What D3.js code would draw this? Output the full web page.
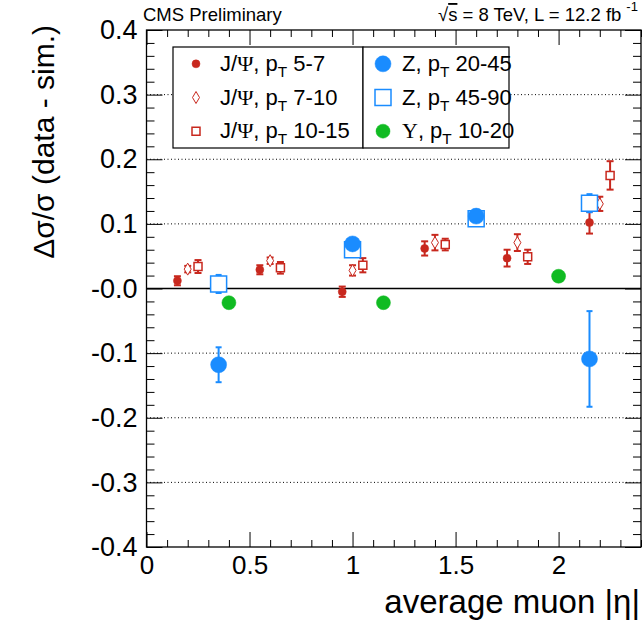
<!DOCTYPE html>
<html><head><meta charset="utf-8">
<script src="https://cdn.jsdelivr.net/npm/d3@7"></script>
<style>
body{margin:0;background:#fff}
svg{display:block}
text{font-family:"Liberation Sans",Arial,Helvetica,sans-serif;fill:#000}
.serif{font-family:"Liberation Serif","Times New Roman",serif}
</style>
</head><body>
<svg id="c" width="642" height="620"></svg>
<script>
// ---- data ----
const xDomain = [0, 2.4];
const yDomain = [-0.4, 0.4];
const xTickVals = [0, 0.5, 1, 1.5, 2];
const xTickLabels = ["0", "0.5", "1", "1.5", "2"];
const yTickVals = [-0.4, -0.3, -0.2, -0.1, 0, 0.1, 0.2, 0.3, 0.4];
const yTickLabels = ["-0.4", "-0.3", "-0.2", "-0.1", "-0.0", "0.1", "0.2", "0.3", "0.4"];
const gridVals = [-0.3, -0.2, -0.1, 0.1, 0.2, 0.3];

const jpsi57Eta = [0.15, 0.55, 0.95, 1.35, 1.75, 2.15];
const jpsi57Val = [0.012, 0.029, -0.005, 0.062, 0.047, 0.102];
const jpsi57Err = [0.007, 0.007, 0.008, 0.011, 0.013, 0.017];

const jpsi710Eta = [0.20, 0.60, 1.00, 1.40, 1.80, 2.20];
const jpsi710Val = [0.030, 0.043, 0.028, 0.071, 0.071, 0.131];
const jpsi710Err = [0.005, 0.005, 0.008, 0.012, 0.013, 0.011];

const jpsi1015Eta = [0.25, 0.65, 1.05, 1.45, 1.85, 2.25];
const jpsi1015Val = [0.034, 0.032, 0.036, 0.068, 0.049, 0.175];
const jpsi1015Err = [0.010, 0.009, 0.011, 0.009, 0.011, 0.022];

const z2045Eta = [0.35, 1.00, 1.60, 2.15];
const z2045Val = [-0.118, 0.069, 0.112, -0.109];
const z2045Err = [0.027, 0.005, 0.005, 0.074];

const z4590Eta = [0.35, 1.00, 1.60, 2.15];
const z4590Val = [0.007, 0.060, 0.108, 0.132];
const z4590Err = [0.014, 0.005, 0.005, 0.014];

const upsEta = [0.40, 1.15, 2.00];
const upsVal = [-0.022, -0.022, 0.019];
const upsErr = [0.003, 0.003, 0.003];

// ---- layout ----
const L = 146.5, R = 641, T = 30, B = 547;
const RED = "#c8281e", BLUE = "#1a8cff", GREEN = "#10bb22";

const svg = d3.select("#c");
const x = d3.scaleLinear().domain(xDomain).range([L, R]);
const y = d3.scaleLinear().domain(yDomain).range([B, T]);

// grid
svg.append("g").selectAll("line").data(gridVals).join("line")
  .attr("x1", L).attr("x2", R).attr("y1", d => y(d)).attr("y2", d => y(d))
  .attr("stroke", "#000").attr("stroke-width", 1).attr("stroke-dasharray", "1,2.5");
svg.append("line").attr("x1", L).attr("x2", R).attr("y1", y(0)).attr("y2", y(0))
  .attr("stroke", "#000").attr("stroke-width", 1.5);

// minor tick values
const yMinor = d3.range(-0.4, 0.4001, 0.02).map(v => +v.toFixed(3)).filter(v => !yTickVals.some(t => Math.abs(t - v) < 1e-6));
const xMinor = d3.range(0, 2.4001, 0.1).map(v => +v.toFixed(3)).filter(v => !xTickVals.some(t => Math.abs(t - v) < 1e-6));

function styleAxis(g) {
  g.select(".domain").remove();
  g.selectAll(".tick line").attr("stroke", "#000").attr("stroke-width", 1);
}
// left
svg.append("g").attr("transform", `translate(${L},0)`)
  .call(d3.axisLeft(y).tickValues(yTickVals).tickSize(-16).tickPadding(9)
    .tickFormat((d, i) => yTickLabels[i]))
  .call(styleAxis)
  .call(g => g.selectAll("text").attr("font-size", 27).attr("font-family", "Liberation Sans, Arial, sans-serif"));
svg.append("g").attr("transform", `translate(${L},0)`)
  .call(d3.axisLeft(y).tickValues(yMinor).tickSize(-8).tickFormat(""))
  .call(styleAxis);
// right
svg.append("g").attr("transform", `translate(${R},0)`)
  .call(d3.axisRight(y).tickValues(yTickVals).tickSize(-16).tickFormat(""))
  .call(styleAxis);
svg.append("g").attr("transform", `translate(${R},0)`)
  .call(d3.axisRight(y).tickValues(yMinor).tickSize(-8).tickFormat(""))
  .call(styleAxis);
// bottom
svg.append("g").attr("transform", `translate(0,${B})`)
  .call(d3.axisBottom(x).tickValues(xTickVals).tickSize(-15).tickPadding(9)
    .tickFormat((d, i) => xTickLabels[i]))
  .call(styleAxis)
  .call(g => g.selectAll("text").attr("font-size", 26).attr("font-family", "Liberation Sans, Arial, sans-serif"));
svg.append("g").attr("transform", `translate(0,${B})`)
  .call(d3.axisBottom(x).tickValues(xMinor).tickSize(-7).tickFormat(""))
  .call(styleAxis);
// top
svg.append("g").attr("transform", `translate(0,${T})`)
  .call(d3.axisTop(x).tickValues(xTickVals).tickSize(-15).tickFormat(""))
  .call(styleAxis);
svg.append("g").attr("transform", `translate(0,${T})`)
  .call(d3.axisTop(x).tickValues(xMinor).tickSize(-7).tickFormat(""))
  .call(styleAxis);

// frame
svg.append("rect").attr("x", L).attr("y", T).attr("width", R - L).attr("height", B - T)
  .attr("fill", "none").attr("stroke", "#000").attr("stroke-width", 1.3);

// marker paths
function circlePath(r) { return `M${-r},0A${r},${r} 0 1,0 ${r},0A${r},${r} 0 1,0 ${-r},0Z`; }
function squarePath(h) { return `M${-h},${-h}H${h}V${h}H${-h}Z`; }
function diamondPath(w, h) { return `M0,${-h}L${w},0L0,${h}L${-w},0Z`; }

function series(eta, val, err, color, cap, ew, markerPath, fill, sw) {
  const data = eta.map((e, i) => ({ e, v: val[i], s: err[i] }));
  const g = svg.append("g");
  const eb = g.selectAll("g.eb").data(data).join("g");
  eb.append("line").attr("x1", d => x(d.e)).attr("x2", d => x(d.e))
    .attr("y1", d => y(d.v - d.s)).attr("y2", d => y(d.v + d.s))
    .attr("stroke", color).attr("stroke-width", ew);
  [-1, 1].forEach(sg => {
    eb.append("line").attr("x1", d => x(d.e) - cap).attr("x2", d => x(d.e) + cap)
      .attr("y1", d => y(d.v + sg * d.s)).attr("y2", d => y(d.v + sg * d.s))
      .attr("stroke", color).attr("stroke-width", ew);
  });
  g.selectAll("path.m").data(data).join("path")
    .attr("transform", d => `translate(${x(d.e)},${y(d.v)})`)
    .attr("d", markerPath)
    .attr("fill", fill ? color : "#fff").attr("stroke", color).attr("stroke-width", sw);
}

series(jpsi57Eta, jpsi57Val, jpsi57Err, RED, 3.5, 2, circlePath(4), true, 0.5);
series(jpsi710Eta, jpsi710Val, jpsi710Err, RED, 3.5, 2, diamondPath(3.5, 6), false, 1);
series(jpsi1015Eta, jpsi1015Val, jpsi1015Err, RED, 3.5, 2, squarePath(4), false, 1.5);
series(z4590Eta, z4590Val, z4590Err, BLUE, 3, 2, squarePath(8), false, 1.5);
series(z2045Eta, z2045Val, z2045Err, BLUE, 3, 2, circlePath(8), true, 0.5);
series(upsEta, upsVal, upsErr, GREEN, 3, 2, circlePath(7), true, 0.5);

// legend
const legLeftItems = [
  { m: circlePath(4), c: RED, f: true, sw: 0.5, g: "Ψ", pt: "5-7" },
  { m: diamondPath(3.5, 6), c: RED, f: false, sw: 1, g: "Ψ", pt: "7-10" },
  { m: squarePath(4), c: RED, f: false, sw: 1.5, g: "Ψ", pt: "10-15" }
];
const legRightItems = [
  { m: circlePath(8), c: BLUE, f: true, sw: 0.5, pre: "Z", pt: "20-45" },
  { m: squarePath(8), c: BLUE, f: false, sw: 1.5, pre: "Z", pt: "45-90" },
  { m: circlePath(7), c: GREEN, f: true, sw: 0.5, pre: "Υ", pt: "10-20" }
];
const LX0 = 173, LX1 = 363, LX2 = 509, LY0 = 47, LY1 = 148;
svg.append("rect").attr("x", LX0).attr("y", LY0).attr("width", LX1 - LX0).attr("height", LY1 - LY0)
  .attr("fill", "#fff").attr("stroke", "#000").attr("stroke-width", 1.2);
svg.append("rect").attr("x", LX1).attr("y", LY0).attr("width", LX2 - LX1).attr("height", LY1 - LY0)
  .attr("fill", "#fff").attr("stroke", "#000").attr("stroke-width", 1.2);
const rowH = (LY1 - LY0) / 3;
const LFS = 22;
legLeftItems.forEach((it, i) => {
  const cy = LY0 + rowH * (i + 0.5);
  svg.append("path").attr("transform", `translate(196,${cy})`).attr("d", it.m)
    .attr("fill", it.f ? it.c : "#fff").attr("stroke", it.c).attr("stroke-width", it.sw);
  const t = svg.append("text").attr("x", 220).attr("y", cy + 7).attr("font-size", LFS);
  t.append("tspan").text("J/");
  t.append("tspan").attr("class", "serif").text(it.g);
  t.append("tspan").text(", p");
  t.append("tspan").attr("font-size", LFS * 0.7).attr("dy", 6).text("T");
  t.append("tspan").attr("dy", -6).text(" " + it.pt);
});
legRightItems.forEach((it, i) => {
  const cy = LY0 + rowH * (i + 0.5);
  svg.append("path").attr("transform", `translate(383,${cy})`).attr("d", it.m)
    .attr("fill", it.f ? it.c : "#fff").attr("stroke", it.c).attr("stroke-width", it.sw);
  const t = svg.append("text").attr("x", 402).attr("y", cy + 7).attr("font-size", LFS);
  if (it.pre === "Υ") t.append("tspan").attr("class", "serif").text(it.pre);
  else t.append("tspan").text(it.pre);
  t.append("tspan").text(", p");
  t.append("tspan").attr("font-size", LFS * 0.7).attr("dy", 6).text("T");
  t.append("tspan").attr("dy", -6).text(" " + it.pt);
});

// header
svg.append("text").attr("x", 143).attr("y", 21).attr("font-size", 18.5).text("CMS Preliminary");
const hdr = svg.append("text").attr("x", 438).attr("y", 21).attr("font-size", 18.5);
hdr.append("tspan").text("√");
hdr.append("tspan").style("text-decoration", "overline").text("s");
hdr.append("tspan").text(" = 8 TeV, L = 12.2 fb");
hdr.append("tspan").attr("font-size", 13).attr("dx", 5).attr("dy", -10).text("-1");

// axis titles
svg.append("text").attr("transform", "translate(54,25) rotate(-90)")
  .attr("text-anchor", "end").attr("font-size", 30).text("Δσ/σ (data - sim.)");
svg.append("text").attr("x", 640).attr("y", 613).attr("text-anchor", "end")
  .attr("font-size", 33).text("average muon |η|");
</script>
</body></html>
